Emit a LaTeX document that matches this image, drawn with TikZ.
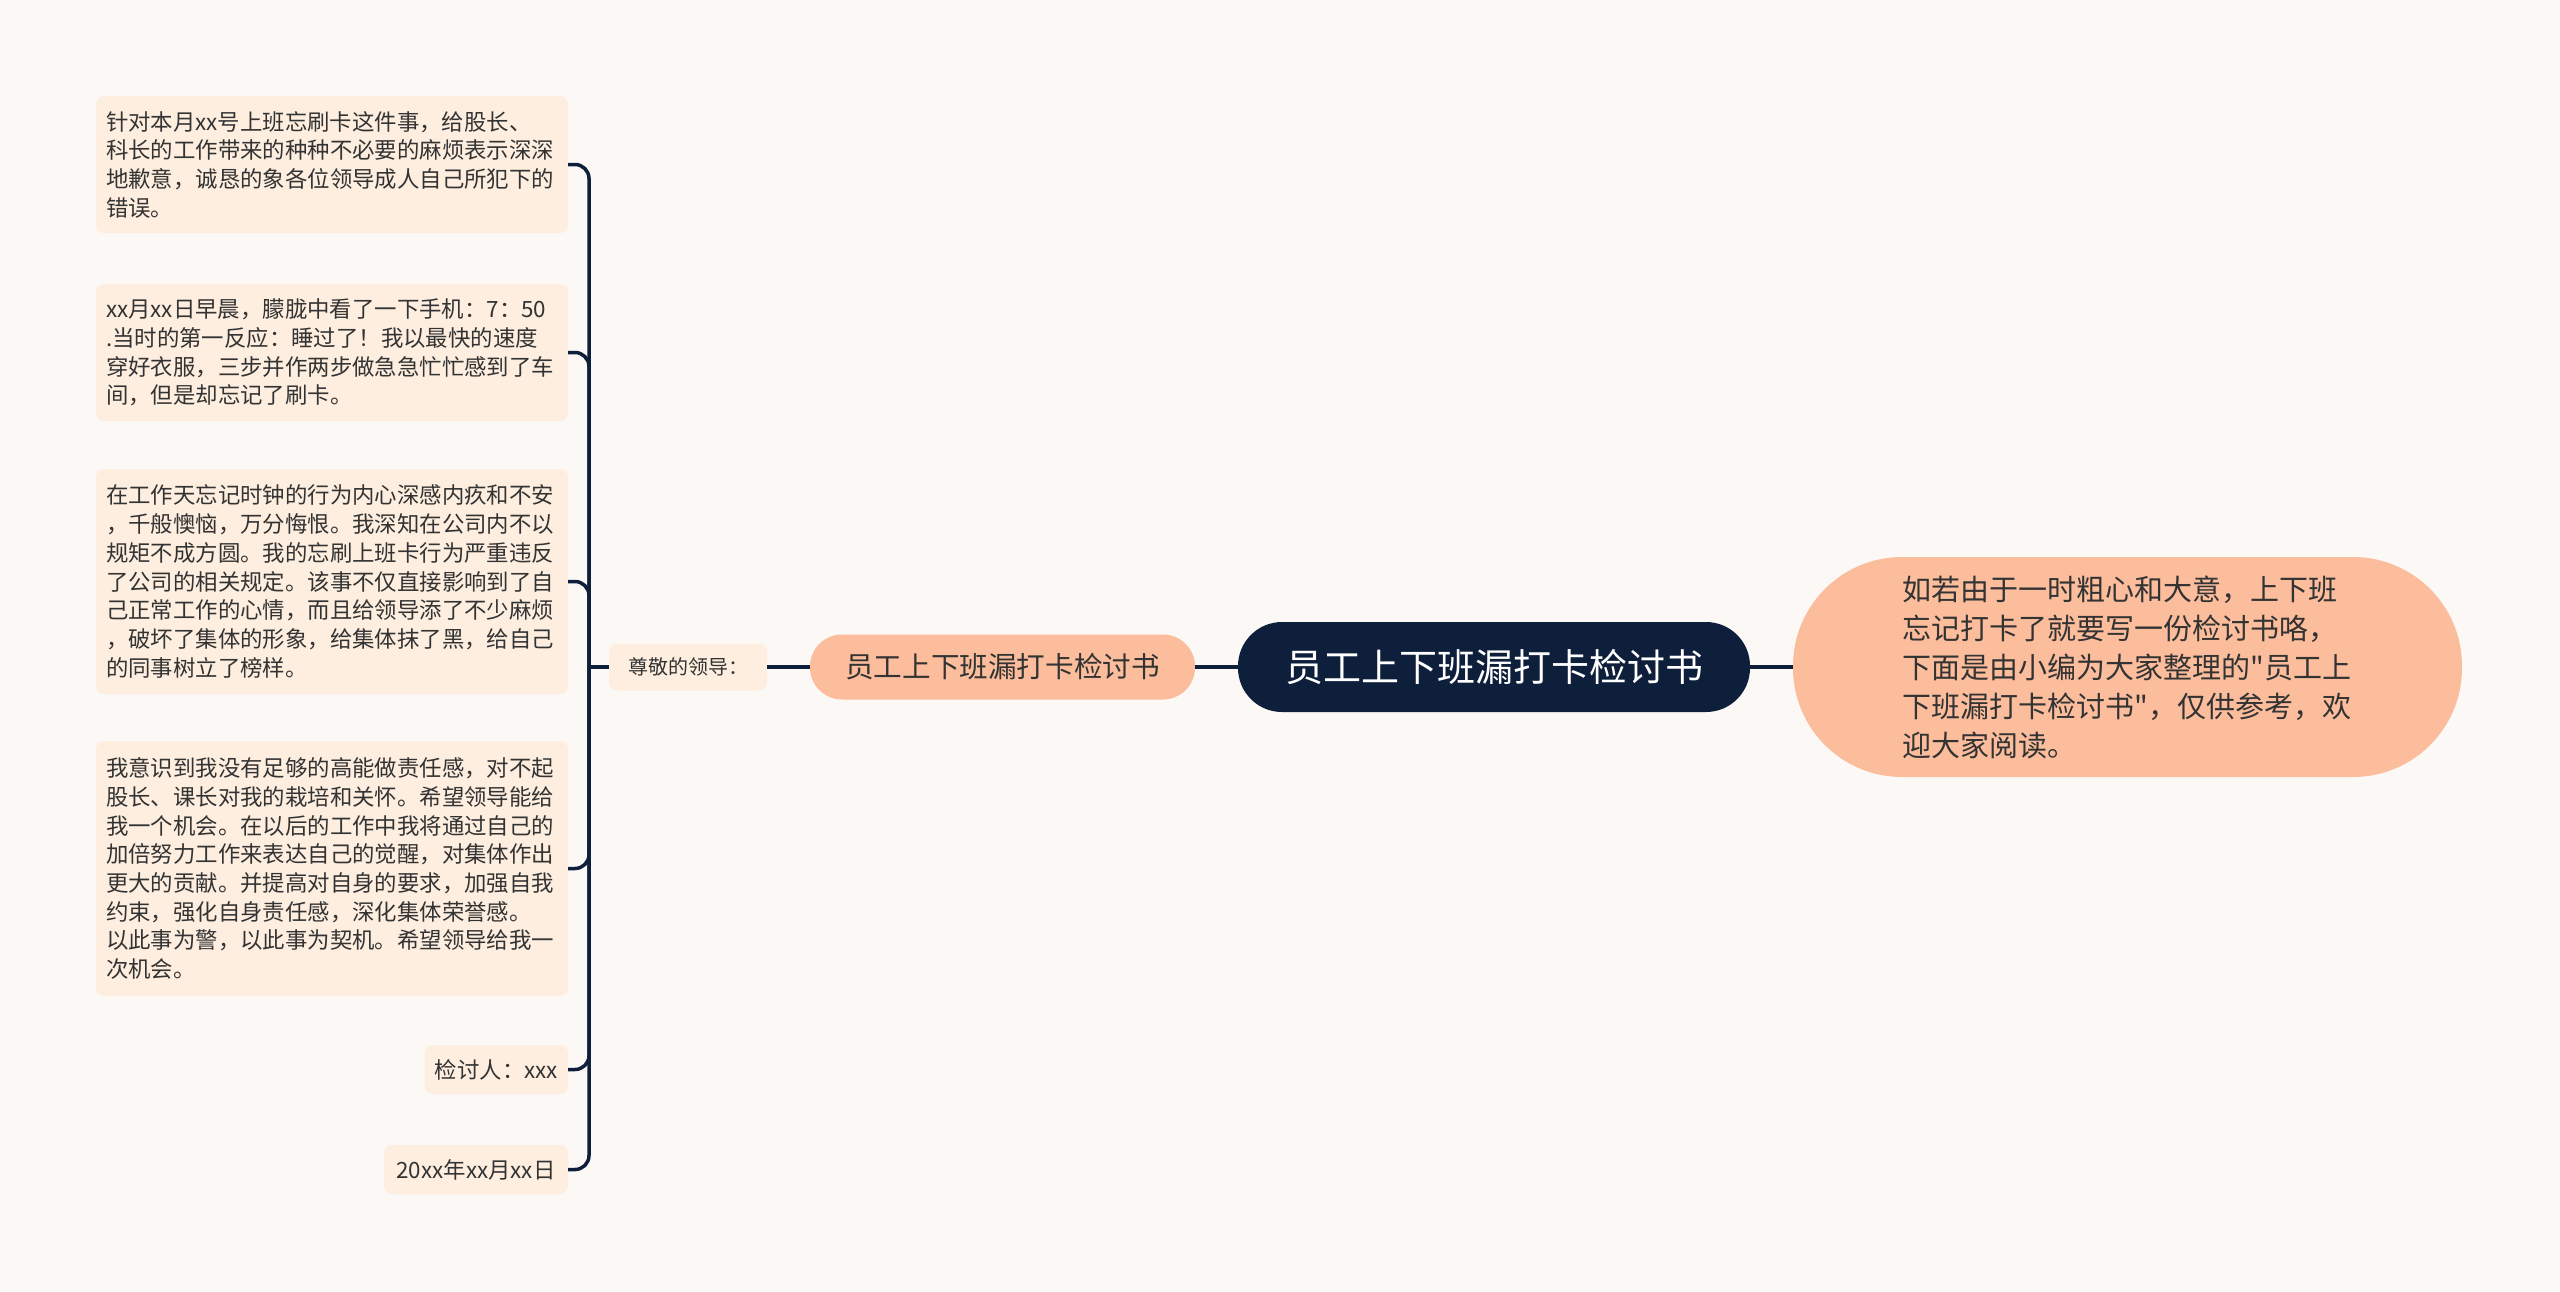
\documentclass[tikz,border=0pt]{standalone}
\usepackage{fontspec}
\setmainfont{Noto Sans CJK SC}[Ligatures=TeXOff]
\usetikzlibrary{positioning}

\definecolor{bgcol}{HTML}{FCF8F6}
\definecolor{navy}{HTML}{0E1F3B}
\definecolor{salmon}{HTML}{FBBD9C}
\definecolor{peach}{HTML}{FDEEDF}
\definecolor{txtgray}{HTML}{333333}

\begin{document}
\begin{tikzpicture}[x=1pt,y=-1pt,
		every node/.style={inner sep=0pt,outer sep=0pt},
		root/.style={fill=navy,text=white,rounded corners=44pt,minimum width=512pt,minimum height=90pt,font=\fontsize{38}{46}\selectfont},
		topic/.style={fill=salmon,text=txtgray,rounded corners=32pt,minimum width=385pt,minimum height=65pt,font=\fontsize{28.6}{36}\selectfont},
		note/.style={fill=salmon,text=txtgray,rounded corners=109pt,minimum width=669pt,minimum height=220pt,text width=450pt,align=left,font=\fontsize{29}{39}\selectfont},
		leaf/.style={fill=peach,text=txtgray,rounded corners=8pt,inner xsep=10pt,font=\fontsize{22.4}{28.7}\selectfont},
		para/.style={leaf,text width=452pt,align=left},
		link/.style={draw=navy,line width=3.5pt},
		node distance=43pt]
	\fill[bgcol] (0,0) rectangle (2560,1291);
	
	\node[root] (book) at (1494,667) {员工上下班漏打卡检讨书};
	\node[topic] (title) [left=of book]  {员工上下班漏打卡检讨书};
	\node[leaf,minimum width=158pt,minimum height=47pt,font=\fontsize{20}{24}\selectfont] (greet) [left=of title] {尊敬的领导：};
	\node[note] (intro) [right=of book] {如若由于一时粗心和大意，上下班\\忘记打卡了就要写一份检讨书咯，\\下面是由小编为大家整理的"员工上\\下班漏打卡检讨书"，仅供参考，欢\\迎大家阅读。};
	
	% left column
	\node[para,anchor=east,minimum height=137pt] (p1) at (568,164.5) {针对本月xx号上班忘刷卡这件事，给股长、\\科长的工作带来的种种不必要的麻烦表示深深\\地歉意，诚恳的象各位领导成人自己所犯下的\\错误。};
	\node[para,anchor=east,minimum height=137pt] (p2) at (568,352.5) {xx月xx日早晨，朦胧中看了一下手机：7：50\\.当时的第一反应：睡过了！我以最快的速度\\穿好衣服，三步并作两步做急急忙忙感到了车\\间，但是却忘记了刷卡。};
	\node[para,anchor=east,minimum height=225pt] (p3) at (568,581.5) {在工作天忘记时钟的行为内心深感内疚和不安\\，千般懊恼，万分悔恨。我深知在公司内不以\\规矩不成方圆。我的忘刷上班卡行为严重违反\\了公司的相关规定。该事不仅直接影响到了自\\己正常工作的心情，而且给领导添了不少麻烦\\，破坏了集体的形象，给集体抹了黑，给自己\\的同事树立了榜样。};
	\node[para,anchor=east,minimum height=255pt] (p4) at (568,868.5) {我意识到我没有足够的高能做责任感，对不起\\股长、课长对我的栽培和关怀。希望领导能给\\我一个机会。在以后的工作中我将通过自己的\\加倍努力工作来表达自己的觉醒，对集体作出\\更大的贡献。并提高对自身的要求，加强自我\\约束，强化自身责任感，深化集体荣誉感。\\以此事为警，以此事为契机。希望领导给我一\\次机会。};
	\node[leaf,anchor=east,minimum height=49pt] (sign) at (568,1069.5) {检讨人：xxx};
	\node[leaf,anchor=east,minimum height=49pt,minimum width=184pt] (date) at (568,1169.5) {20xx年xx月xx日};
	
	\coordinate (fork) at ([xshift=-20pt]greet.west);
	\draw[link,line width=4pt] (title.east) -- (book.west);
	\draw[link,line width=4pt] (book.east) -- (intro.west);
	\draw[link] (greet.east) -- (title.west);
	\draw[link] (greet.west) -- (fork);
	\foreach \n in {p1,p2,p3,p4,sign,date}
		\draw[link,rounded corners=14pt] (fork) |- (\n.east);
\end{tikzpicture}
\end{document}
